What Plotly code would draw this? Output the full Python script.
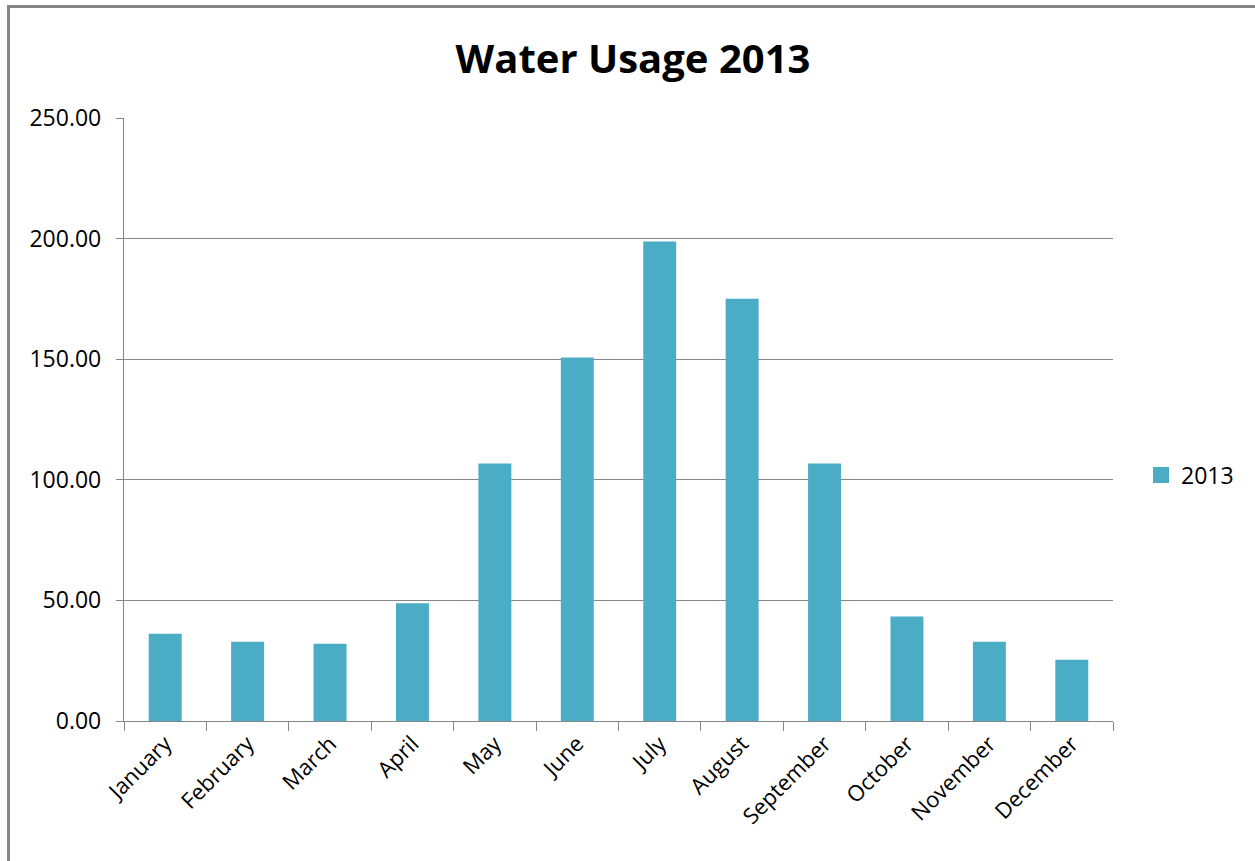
import plotly.graph_objects as go

months = ["January", "February", "March", "April", "May", "June", "July",
          "August", "September", "October", "November", "December"]
usage_2013 = [36.2, 32.9, 32.0, 48.8, 106.8, 150.7, 198.8, 175.1, 106.8, 43.3, 32.9, 25.4]
series_name = "2013"
y_ticks = [0, 50, 100, 150, 200, 250]
y_tick_labels = ["0.00", "50.00", "100.00", "150.00", "200.00", "250.00"]

W, H = 1255, 861
L, R, T, B = 124, 142, 118, 140
pw, ph = W - L - R, H - T - B
bar_color = "#4BACC6"

def px_x(x):
    return (x - L) / pw

def px_y(y):
    return (H - B - y) / ph

font_family = "Open Sans, Liberation Sans, sans-serif"
grid_col = "#878787"

fig = go.Figure()
fig.add_trace(go.Bar(
    x=months, y=usage_2013, name=series_name,
    marker=dict(color=bar_color, line=dict(width=0)),
    showlegend=False, legendgroup="s",
))
# legend-only entry with a larger square swatch
fig.add_trace(go.Scatter(
    x=[None], y=[None], mode="markers", name=series_name, legendgroup="s",
    marker=dict(symbol="square", size=16, color=bar_color), showlegend=True,
))

fig.update_layout(
    width=W, height=H,
    margin=dict(l=L, r=R, t=T, b=B, autoexpand=False),
    paper_bgcolor="white", plot_bgcolor="white",
    bargap=0.6,
    title=dict(text="<b>Water Usage 2013</b>", x=633 / W, xref="container", xanchor="center",
               y=1 - 59 / H, yref="container", yanchor="middle",
               font=dict(family=font_family, size=40, color="black")),
    font=dict(family=font_family, size=23, color="black"),
    legend=dict(x=px_x(1141), y=px_y(475), xanchor="left", yanchor="middle",
                font=dict(size=23), bgcolor="rgba(0,0,0,0)", itemwidth=30),
    showlegend=True,
)

fig.update_xaxes(
    showline=True, linecolor=grid_col, linewidth=1.3,
    ticks="outside", ticklen=9, tickcolor=grid_col, tickwidth=1.3,
    tickson="boundaries", tickangle=-45,
    tickfont=dict(size=22), showgrid=False,
)
fig.update_yaxes(
    range=[0, 250], tickvals=y_ticks, ticktext=y_tick_labels,
    showline=True, linecolor=grid_col, linewidth=1.3,
    ticks="outside", ticklen=7, tickcolor=grid_col, tickwidth=1.3,
    showgrid=True, gridcolor=grid_col, gridwidth=1.3,
    zeroline=False, tickfont=dict(size=23), ticklabelstandoff=10,
)

# outer chart frame
fig.add_shape(type="rect", xref="paper", yref="paper",
              x0=px_x(8.5), x1=px_x(W + 10), y0=px_y(H + 10), y1=px_y(6.5),
              line=dict(color="#868686", width=3), fillcolor="rgba(0,0,0,0)", layer="above")

fig.write_html("out.html")
